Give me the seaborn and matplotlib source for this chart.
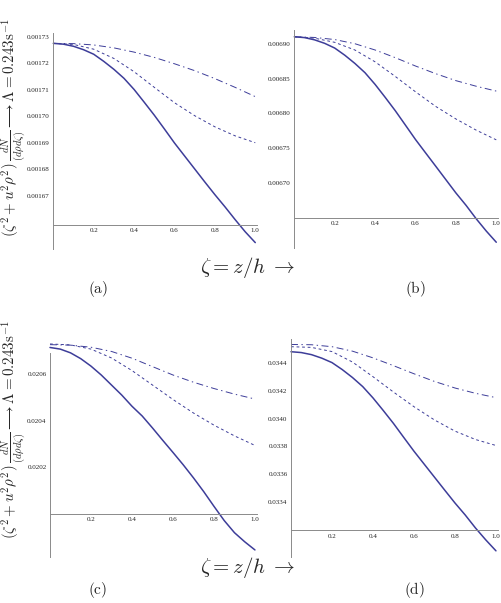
import matplotlib
matplotlib.use("Agg")
import matplotlib.pyplot as plt
from matplotlib.ticker import MultipleLocator, FormatStrFormatter, FixedLocator
import seaborn as sns

# zeta = z/h sample points (fine grid for the solid curves, coarse for the dashed)
zeta_fine = [0.0, 0.05, 0.1, 0.15, 0.2, 0.25, 0.3, 0.35, 0.4, 0.45, 0.5,
             0.55, 0.6, 0.65, 0.7, 0.75, 0.8, 0.85, 0.9, 0.95, 1.0]
zeta = [0.0, 0.1, 0.2, 0.3, 0.4, 0.5, 0.6, 0.7, 0.8, 0.9, 1.0]

# panel (a)
a_solid = [0.0017275, 0.0017272, 0.0017264, 0.0017251, 0.0017234, 0.0017207, 0.0017177,
           0.0017143, 0.0017101, 0.0017053, 0.0017004, 0.0016952, 0.0016899, 0.0016850,
           0.0016801, 0.0016752, 0.0016704, 0.0016658, 0.0016610, 0.0016564, 0.0016523]
a_dot = [0.0017275, 0.0017271, 0.0017253, 0.0017218, 0.0017168, 0.0017109,
         0.0017051, 0.0017002, 0.0016960, 0.0016926, 0.0016900]
a_dash = [0.0017275, 0.0017274, 0.0017269, 0.0017258, 0.0017242, 0.0017222,
          0.0017198, 0.0017172, 0.0017142, 0.0017109, 0.0017074]

# panel (b)
b_solid = [0.0069100, 0.0069088, 0.0069056, 0.0069006, 0.0068938, 0.0068835, 0.0068717,
           0.0068584, 0.0068416, 0.0068230, 0.0068038, 0.0067832, 0.0067625, 0.0067433,
           0.0067242, 0.0067050, 0.0066858, 0.0066681, 0.0066489, 0.0066312, 0.0066150]
b_dot = [0.006910, 0.006908, 0.006902, 0.006891, 0.006874, 0.006853,
         0.006831, 0.006810, 0.006792, 0.006776, 0.006762]
b_dash = [0.006910, 0.006909, 0.006906, 0.006900, 0.006891, 0.006880,
          0.006868, 0.006857, 0.006847, 0.006839, 0.006832]

# panel (c)
c_solid = [0.020714, 0.020707, 0.020691, 0.020666, 0.020634, 0.020596, 0.020553,
           0.020510, 0.020462, 0.020420, 0.020369, 0.020316, 0.020264, 0.020211,
           0.020155, 0.020096, 0.020033, 0.019972, 0.019920, 0.019881, 0.019846]
c_dot = [0.020729, 0.020725, 0.020707, 0.020669, 0.020615, 0.020553,
         0.020491, 0.020433, 0.020381, 0.020335, 0.020294]
c_dash = [0.020726, 0.020724, 0.020715, 0.020697, 0.020668, 0.020632,
          0.020596, 0.020565, 0.020538, 0.020514, 0.020493]

# panel (d)
d_solid = [0.034479, 0.034473, 0.034458, 0.034433, 0.034401, 0.034351, 0.034294,
           0.034229, 0.034148, 0.034058, 0.033965, 0.033865, 0.033766, 0.033673,
           0.033580, 0.033487, 0.033395, 0.033309, 0.033216, 0.033131, 0.033052]
d_dot = [0.034515, 0.034510, 0.034480, 0.034405, 0.034300, 0.034190,
         0.034085, 0.033990, 0.033910, 0.033850, 0.033807]
d_dash = [0.034531, 0.034529, 0.034515, 0.034483, 0.034435, 0.034379,
          0.034321, 0.034266, 0.034219, 0.034181, 0.034150]

panel_names = ["(a)", "(b)", "(c)", "(d)"]

sns.set_style("white")
plt.rcParams["mathtext.fontset"] = "cm"
plt.rcParams["font.family"] = ["Liberation Serif", "DejaVu Serif"]
plt.rcParams["lines.scale_dashes"] = False

LINE = "#3d3d99"
AXC = "#8a8a8a"
W, H = 502, 603


def px_rect(left, right, top, bottom):
    return [left / W, 1 - bottom / H, (right - left) / W, (bottom - top) / H]


def draw_panel(fig, rect, solid, dot, dash, ylim, origin, yticks, yminor, fmt):
    ax = fig.add_axes(rect)
    sns.lineplot(x=zeta_fine, y=solid, ax=ax, color=LINE, lw=1.1)
    sns.lineplot(x=zeta, y=dot, ax=ax, color=LINE, lw=0.7)
    ax.lines[-1].set_dashes([2.0, 2.0])
    sns.lineplot(x=zeta, y=dash, ax=ax, color=LINE, lw=0.7)
    ax.lines[-1].set_dashes([5.0, 2.5, 1.0, 2.5])
    for ln in ax.lines:
        ln.set_clip_on(False)

    ax.set_xlim(0, 1.01)
    ax.set_ylim(*ylim)
    ax.spines["top"].set_visible(False)
    ax.spines["right"].set_visible(False)
    ax.spines["bottom"].set_position(("data", origin))
    ax.spines["left"].set_position(("data", 0))
    for s in ("bottom", "left"):
        ax.spines[s].set_color(AXC)
        ax.spines[s].set_linewidth(0.7)

    ax.xaxis.set_major_locator(FixedLocator([0.2, 0.4, 0.6, 0.8, 1.0]))
    ax.xaxis.set_minor_locator(FixedLocator([0.05 * i for i in range(1, 21) if i % 4]))
    ax.xaxis.set_major_formatter(FormatStrFormatter("%.1f"))
    ax.yaxis.set_major_locator(FixedLocator(yticks))
    ax.yaxis.set_minor_locator(MultipleLocator(yminor))
    ax.yaxis.set_major_formatter(FormatStrFormatter(fmt))
    ax.tick_params(which="both", direction="in", color=AXC, width=0.6,
                   labelsize=5.0, labelcolor="#222222", pad=2.5)
    ax.tick_params(which="major", length=3.5)
    ax.tick_params(which="minor", length=1.8)
    ax.set_xlabel("")
    ax.set_ylabel("")
    return ax


fig = plt.figure(figsize=(W / 100, H / 100), dpi=100)

draw_panel(fig, px_rect(53.3, 257.3, 33.3, 248.7), a_solid, a_dot, a_dash,
           (0.00165, 0.0017313), 0.001659,
           [0.00167, 0.00168, 0.00169, 0.00170, 0.00171, 0.00172, 0.00173],
           2e-6, "%.5f")
draw_panel(fig, px_rect(294.3, 498.3, 30.0, 248.3), b_solid, b_dot, b_dash,
           (0.0066063, 0.0069197), 0.00665,
           [0.00670, 0.00675, 0.00680, 0.00685, 0.00690],
           1e-5, "%.5f")
draw_panel(fig, px_rect(50.0, 257.0, 353.3, 556.7), c_solid, c_dot, c_dash,
           (0.019817, 0.020689), 0.0200,
           [0.0202, 0.0204, 0.0206],
           5e-5, "%.4f")
draw_panel(fig, px_rect(291.0, 498.0, 339.3, 556.7), d_solid, d_dot, d_dash,
           (0.033010, 0.034568), 0.0332,
           [0.0334, 0.0336, 0.0338, 0.0340, 0.0342, 0.0344],
           5e-5, "%.4f")

ylab = (r"$(\zeta^2+u^2\rho^2)\,\frac{dN}{(d\rho d\zeta)}\longrightarrow"
        r"\Lambda=0.243\mathrm{s}^{-1}$")
xlab = r"$\zeta = z/h\;\rightarrow$"
for yc in (128, 430):
    fig.text(13.5 / W, 1 - yc / H, ylab, rotation=90, ha="center", va="center", fontsize=10.8)
for yc in (268, 568):
    fig.text(248 / W, 1 - yc / H, xlab, ha="center", va="center", fontsize=15)
for name, (xc, yc) in zip(panel_names, [(98, 289), (415, 289), (98, 590), (414, 590)]):
    fig.text(xc / W, 1 - yc / H, r"$\mathrm{" + name + "}$", ha="center", va="center", fontsize=11)

fig.savefig("out.png", dpi=100)
